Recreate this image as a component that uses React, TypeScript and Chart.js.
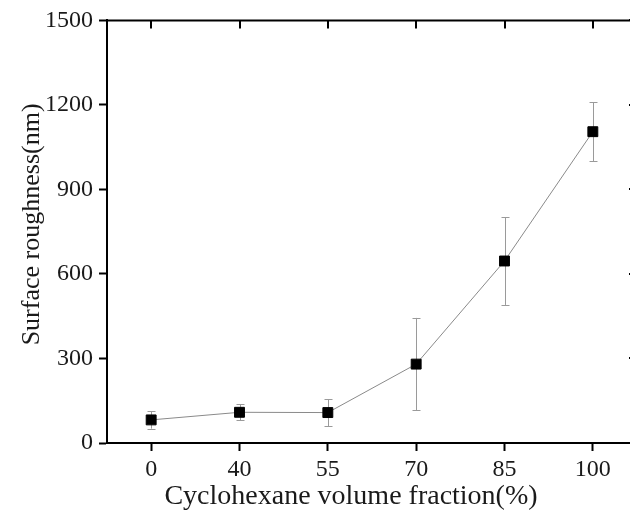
import React, { useEffect, useRef } from "react";
import { Chart, registerables } from "chart.js";

Chart.register(...registerables);

const categories = ["0", "40", "55", "70", "85", "100"];
const roughness = [82, 109, 108, 280, 646, 1105];
const roughnessErr = [31, 28, 48, 164, 156, 104];
const yTicks = [0, 300, 600, 900, 1200, 1500];
const xTitle = "Cyclohexane volume fraction(%)";
const yTitle = "Surface roughness(nm)";

const FONT = "'Liberation Serif', 'Times New Roman', serif";

const framePlugin = {
  id: "frameAndErrors",
  beforeDatasetsDraw(chart: any) {
    const { ctx, scales } = chart;
    const x = scales.x;
    const y = scales.y;
    ctx.save();
    ctx.strokeStyle = "#9a9a9a";
    ctx.lineWidth = 1;
    roughness.forEach((v, i) => {
      const px = Math.round(x.getPixelForValue(i)) + 0.5;
      const top = y.getPixelForValue(v + roughnessErr[i]);
      const bot = y.getPixelForValue(v - roughnessErr[i]);
      ctx.beginPath();
      ctx.moveTo(px, top);
      ctx.lineTo(px, bot);
      ctx.moveTo(px - 4, Math.round(top) + 0.5);
      ctx.lineTo(px + 4, Math.round(top) + 0.5);
      ctx.moveTo(px - 4, Math.round(bot) + 0.5);
      ctx.lineTo(px + 4, Math.round(bot) + 0.5);
      ctx.stroke();
    });
    ctx.restore();
  },
  afterDraw(chart: any) {
    const { ctx, chartArea, scales } = chart;
    const { left, right, top, bottom } = chartArea;
    ctx.save();
    ctx.strokeStyle = "#000";
    ctx.lineWidth = 2;
    ctx.beginPath();
    ctx.moveTo(left - 1, top);
    ctx.lineTo(right, top);
    ctx.moveTo(right, top);
    ctx.lineTo(right, bottom);
    ctx.stroke();
    ctx.beginPath();
    scales.x.ticks.forEach((_t: any, i: number) => {
      const px = Math.round(scales.x.getPixelForTick(i));
      ctx.moveTo(px, top);
      ctx.lineTo(px, top + 8);
    });
    scales.y.ticks.forEach((_t: any, i: number) => {
      const py = Math.round(scales.y.getPixelForTick(i));
      ctx.moveTo(right, py);
      ctx.lineTo(right - 8, py);
    });
    ctx.stroke();

    // axis titles
    ctx.fillStyle = "#1a1a1a";
    ctx.textAlign = "center";
    ctx.textBaseline = "middle";
    ctx.font = `28px ${FONT}`;
    ctx.fillText(xTitle, left + 244, bottom + 54);
    ctx.translate(left - 75, top + 204);
    ctx.rotate(-Math.PI / 2);
    ctx.font = `26px ${FONT}`;
    ctx.fillText(yTitle, 0, 0);
    ctx.restore();
  },
};

export default function App() {
  const ref = useRef<HTMLCanvasElement | null>(null);
  useEffect(() => {
    if (!ref.current) return;
    const chart = new Chart(ref.current, {
      type: "line",
      data: {
        labels: categories,
        datasets: [
          {
            data: roughness,
            borderColor: "#8a8a8a",
            borderWidth: 1,
            pointStyle: "rect",
            pointRadius: 7,
            pointBackgroundColor: "#000",
            pointBorderColor: "#000",
            pointBorderWidth: 1,
            tension: 0,
          },
        ],
      },
      options: {
        responsive: false,
        animation: false,
        devicePixelRatio: 1,
        layout: { padding: { top: 16, right: 4, left: 0, bottom: 0 } },
        plugins: { legend: { display: false }, tooltip: { enabled: false } },
        scales: {
          x: {
            type: "category",
            offset: true,
            grid: {
              display: true,
              drawOnChartArea: false,
              drawTicks: true,
              tickLength: 8,
              tickWidth: 2,
              tickColor: "#000",
              offset: false,
            },
            border: { display: true, color: "#000", width: 2 },
            ticks: {
              color: "#1a1a1a",
              font: { family: FONT, size: 24 },
              padding: 4,
              maxRotation: 0,
            },
            title: { display: false, text: xTitle },
            afterFit(scale: any) {
              scale.height = 80;
            },
          },
          y: {
            min: 0,
            max: 1500,
            afterBuildTicks(scale: any) {
              scale.ticks = yTicks.map((v) => ({ value: v }));
            },
            grid: {
              display: true,
              drawOnChartArea: false,
              drawTicks: true,
              tickLength: 8,
              tickWidth: 2,
              tickColor: "#000",
            },
            border: { display: true, color: "#000", width: 2 },
            ticks: {
              color: "#1a1a1a",
              font: { family: FONT, size: 24 },
              padding: 6,
              callback: (v: any) => String(v),
            },
            title: { display: false, text: yTitle },
            afterFit(scale: any) {
              scale.width = 107;
            },
          },
        },
      },
      plugins: [framePlugin],
    });
    return () => chart.destroy();
  }, []);
  return (
    <div
      style={{
        position: "fixed",
        left: 0,
        top: 0,
        width: 630,
        height: 523,
        overflow: "hidden",
        background: "#fff",
      }}
    >
      <canvas ref={ref} width={645} height={523} style={{ width: 645, height: 523, display: "block" }} />
    </div>
  );
}
